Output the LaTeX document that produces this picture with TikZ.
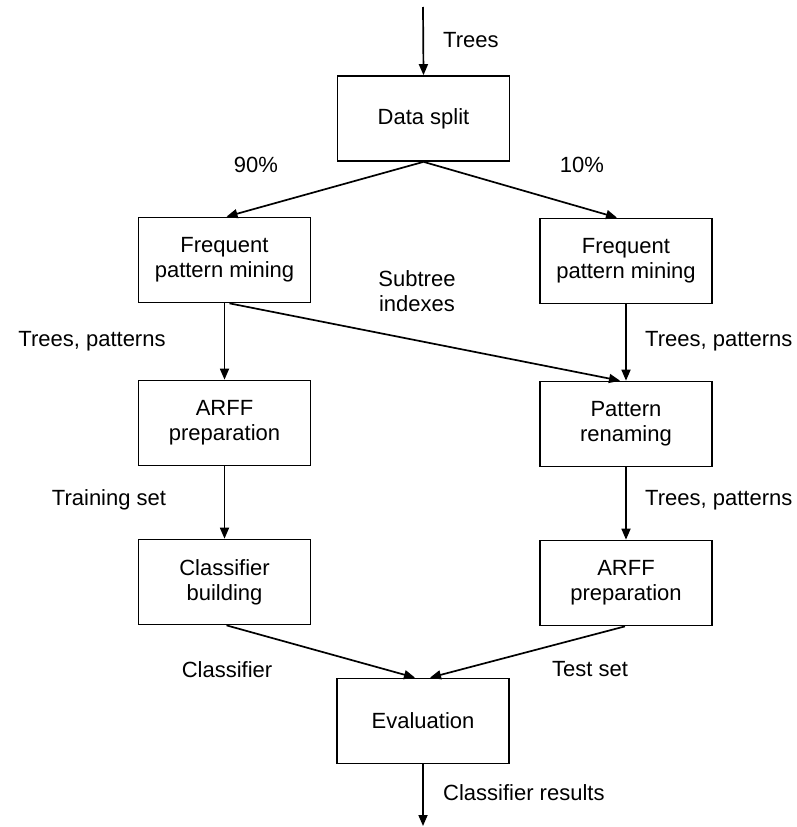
\documentclass[tikz,border=0pt]{standalone}
\usepackage{fontspec}
\setmainfont{Liberation Sans}
\usetikzlibrary{arrows.meta}
\begin{document}
\begin{tikzpicture}[x=1pt,y=-1pt,
  font=\fontsize{22}{25}\selectfont,
  box/.style={draw,line width=1.7pt,minimum width=172pt,minimum height=85pt,align=center,inner sep=0pt},
  lbl/.style={inner sep=0pt,align=center},
  conn/.style={line width=1.7pt,-{Triangle[length=11pt,width=9pt]}}]
\useasboundingbox (0,0) rectangle (797,827);
\node[box] (ds) at (423.5,118.5) {\raisebox{-2pt}{Data split}};
\node[box] (fl) at (224.5,260) {Frequent\\pattern mining};
\node[box] (fr) at (626,261) {Frequent\\pattern mining};
\node[box] (al) at (224.5,423) {ARFF\\preparation};
\node[box] (pr) at (626,424) {Pattern\\renaming};
\node[box] (cb) at (224.5,582) {Classifier\\building};
\node[box] (ar) at (626,583) {ARFF\\preparation};
\node[box] (ev) at (423,721) {Evaluation};
\coordinate (in) at (423,7);
\coordinate (out) at (423,826);
\draw[conn] (in) -- (ds.north);
\draw[conn] (ds.south) -- ([xshift=2]fl.north);
\draw[conn] (ds.south) -- ([xshift=-9]fr.north);
\draw[conn] (fl.south) -- (al.north);
\draw[conn] ([xshift=5]fl.south) -- ([xshift=-6]pr.north);
\draw[conn] (fr.south) -- (pr.north);
\draw[conn] (al.south) -- (cb.north);
\draw[conn] (pr.south) -- (ar.north);
\draw[conn] ([xshift=2]cb.south) -- ([xshift=-8]ev.north);
\draw[conn] ([xshift=-1]ar.south) -- ([xshift=7]ev.north);
\draw[conn] (ev.south) -- (out);
\node[lbl,anchor=west] (t1) at (443,40) {Trees};
\node[lbl] (t2) at (256,165) {90\%};
\node[lbl] (t3) at (582,165) {10\%};
\node[lbl] (t4) at (417,291) {Subtree\\indexes};
\node[lbl] (t5) at (92,341) {Trees, patterns};
\node[lbl,anchor=west] (t6) at (645,341) {Trees, patterns};
\node[lbl] (t7) at (109,500) {Training set};
\node[lbl,anchor=west] (t8) at (645,500) {Trees, patterns};
\node[lbl] (t9) at (227,670) {Classifier};
\node[lbl,anchor=west] (t10) at (552,669) {Test set};
\node[lbl,anchor=west] (t11) at (443,793) {Classifier results};
\end{tikzpicture}
\end{document}
